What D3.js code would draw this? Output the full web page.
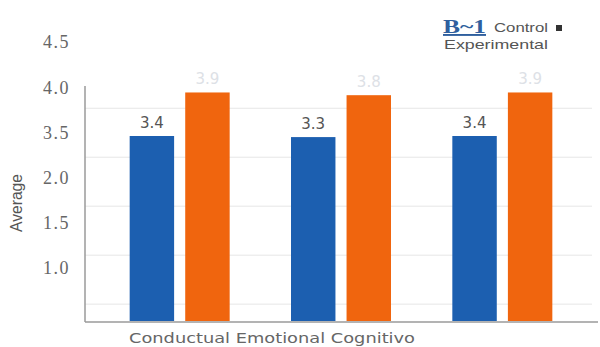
<!DOCTYPE html>
<html><head><meta charset="utf-8">
<script src="https://cdn.jsdelivr.net/npm/d3@7"></script>
<style>body{margin:0;background:#fff}svg{display:block}</style>
</head><body>
<svg id="c" width="600" height="347"></svg>
<script>
const categories = ["Conductual", "Emotional", "Cognitivo"];
const series = ["Control", "Experimental"];
const control = [3.4, 3.38, 3.4];
const experimental = [4.2, 4.15, 4.2];
const controlLabels = ["3.4", "3.3", "3.4"];
const experimentalLabels = ["3.9", "3.8", "3.9"];
const yTickLabels = ["4.5", "4.0", "3.5", "2.0", "1.5", "1.0"];
const gridValues = [0.31, 1.21, 2.11, 3.01, 3.91];
const colors = ["#1c5fb0", "#f0650e"];

(function () {
const svg = d3.select("#c");
const pLeft = 85, pRight = 592, pTop = 86, pBottom = 321;

const y = d3.scaleLinear().domain([0, 3.4]).range([pBottom, 136]);
const x0 = d3.scaleBand().domain(categories).range([99, 583]);
const x1 = d3.scaleBand().domain(series).range([0, 100]).paddingInner(0.2);
const yLab = d3.scalePoint().domain(yTickLabels).range([42, 268]);

// grid
svg.append("g").selectAll("line").data(gridValues).join("line")
  .attr("x1", pLeft).attr("x2", pRight)
  .attr("y1", d => y(d)).attr("y2", d => y(d))
  .attr("stroke", "#e6e6e6").attr("stroke-width", 1);

// bars
const data = categories.map((c, i) => ({c, vals: [control[i], experimental[i]], labs: [controlLabels[i], experimentalLabels[i]]}));
const g = svg.append("g").selectAll("g").data(data).join("g")
  .attr("transform", d => `translate(${x0(d.c) + (x0.bandwidth() - 100) / 2},0)`);
g.selectAll("rect").data(d => d.vals.map((v, j) => ({v, s: series[j], j}))).join("rect")
  .attr("x", d => x1(d.s)).attr("width", x1.bandwidth())
  .attr("y", d => y(d.v)).attr("height", d => pBottom - y(d.v))
  .attr("fill", d => colors[d.j]);
g.selectAll("text").data(d => d.vals.map((v, j) => ({v, s: series[j], j, l: d.labs[j]}))).join("text")
  .attr("x", d => x1(d.s) + x1.bandwidth() / 2)
  .attr("y", d => y(d.v) - 8)
  .attr("text-anchor", "middle")
  .attr("font-family", "DejaVu Sans, sans-serif").attr("font-size", 15)
  .attr("fill", d => d.j === 0 ? "#555" : "#dde1e6")
  .text(d => d.l);

// axes lines
svg.append("line").attr("x1", pLeft).attr("x2", pLeft).attr("y1", pTop).attr("y2", pBottom + 1)
  .attr("stroke", "#9a9a9a").attr("stroke-width", 1.5);
svg.append("line").attr("x1", pLeft).attr("x2", 598).attr("y1", pBottom + 1).attr("y2", pBottom + 1)
  .attr("stroke", "#9a9a9a").attr("stroke-width", 1.5);

// y tick labels
svg.append("g").selectAll("text").data(yTickLabels).join("text")
  .attr("x", 70).attr("y", d => yLab(d)).attr("dy", "0.35em")
  .attr("text-anchor", "end")
  .attr("font-family", "Liberation Serif, serif").attr("font-size", 18)
  .attr("letter-spacing", 1.5)
  .attr("fill", "#666").text(d => d);

// y title
svg.append("text").attr("transform", "translate(22,203) rotate(-90)")
  .attr("text-anchor", "middle")
  .attr("font-family", "Liberation Sans, sans-serif").attr("font-size", 16)
  .attr("textLength", 58).attr("lengthAdjust", "spacingAndGlyphs")
  .attr("fill", "#555").text("Average");

// x label (all categories in one line)
svg.append("text").attr("x", 129).attr("y", 343)
  .attr("font-family", "DejaVu Sans, sans-serif").attr("font-size", 13.5)
  .attr("textLength", 286).attr("lengthAdjust", "spacingAndGlyphs")
  .attr("fill", "#666").text(categories.join(" "));

// legend
const lg = svg.append("g");
lg.append("text").attr("x", 443).attr("y", 33)
  .attr("font-family", "Liberation Serif, serif").attr("font-size", 19).attr("font-weight", "bold")
  .attr("textLength", 43).attr("lengthAdjust", "spacingAndGlyphs")
  .attr("text-decoration", "underline").attr("fill", "#2f5f9e").text("B~1");
lg.append("text").attr("x", 494).attr("y", 32)
  .attr("font-family", "Liberation Sans, sans-serif").attr("font-size", 13)
  .attr("textLength", 54).attr("lengthAdjust", "spacingAndGlyphs")
  .attr("fill", "#555").text(series[0]);
lg.append("rect").attr("x", 556).attr("y", 25).attr("width", 6).attr("height", 6).attr("fill", "#333");
lg.append("text").attr("x", 444).attr("y", 49)
  .attr("font-family", "Liberation Sans, sans-serif").attr("font-size", 13)
  .attr("textLength", 104).attr("lengthAdjust", "spacingAndGlyphs")
  .attr("fill", "#555").text(series[1]);
})();
</script>
</body></html>
